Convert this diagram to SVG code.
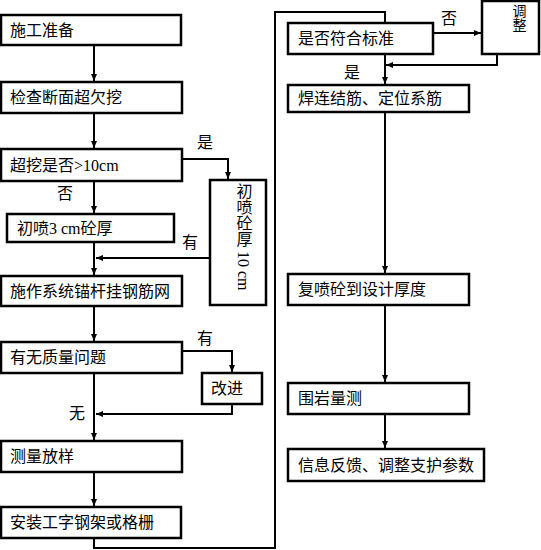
<svg xmlns="http://www.w3.org/2000/svg" width="541" height="550" viewBox="0 0 541 550">
<style>
.box{fill:#fff;stroke:#000;stroke-width:2.5}
.t{font-family:"Liberation Serif","Noto Sans CJK SC",serif;font-size:16px;fill:#000}
.c{fill:none;stroke:#000;stroke-width:2}
</style>
<defs>
<marker id="ah" markerUnits="userSpaceOnUse" markerWidth="8" markerHeight="8" refX="7" refY="4" orient="auto">
<path d="M0,1 L7,4 L0,7 z" fill="#000"/>
</marker>
</defs>
<rect width="541" height="550" fill="#fff"/>
<g id="connectors">
<path class="c" d="M94,45 V81" marker-end="url(#ah)"/>
<path class="c" d="M94,113 V148" marker-end="url(#ah)"/>
<path class="c" d="M182,159 H228 V179" marker-end="url(#ah)"/>
<path class="c" d="M94,181 V213" marker-end="url(#ah)"/>
<path class="c" d="M94,242 V275" marker-end="url(#ah)"/>
<path class="c" d="M210,258 H96" marker-end="url(#ah)"/>
<path class="c" d="M94,306 V341" marker-end="url(#ah)"/>
<path class="c" d="M182,351 H232 V372" marker-end="url(#ah)"/>
<path class="c" d="M232,404 V414 H96" marker-end="url(#ah)"/>
<path class="c" d="M94,373 V440" marker-end="url(#ah)"/>
<path class="c" d="M94,472 V506" marker-end="url(#ah)"/>
<path class="c" d="M94,538 V548 H275 V12 H385 V23"/>
<path class="c" d="M433,33 H481" marker-end="url(#ah)"/>
<path class="c" d="M497,54 V65 H386" marker-end="url(#ah)"/>
<path class="c" d="M385,54 V84" marker-end="url(#ah)"/>
<path class="c" d="M385,112 V273" marker-end="url(#ah)"/>
<path class="c" d="M385,305 V382" marker-end="url(#ah)"/>
<path class="c" d="M385,414 V448" marker-end="url(#ah)"/>
</g>
<g id="labels">
<text class="t" x="197" y="148">是</text>
<text class="t" x="57" y="199">否</text>
<text class="t" x="182" y="248">有</text>
<text class="t" x="197" y="344">有</text>
<text class="t" x="69" y="419">无</text>
<text class="t" x="441" y="24">否</text>
<text class="t" x="344" y="78">是</text>
</g>
<g id="n1"><rect class="box" x="1" y="15" width="180" height="30"/><text class="t" x="10" y="36">施工准备</text></g>
<g id="n2"><rect class="box" x="1" y="82" width="181" height="31"/><text class="t" x="10" y="103">检查断面超欠挖</text></g>
<g id="n3"><rect class="box" x="1" y="149" width="181" height="32"/><text class="t" x="10" y="171">超挖是否&gt;10cm</text></g>
<g id="n4"><rect class="box" x="7" y="214" width="167" height="28"/><text class="t" x="17" y="234">初喷3 cm砼厚</text></g>
<g id="n5"><rect class="box" x="210" y="180" width="56" height="125"/><text class="t" x="243" y="183" style="writing-mode:vertical-rl;text-orientation:mixed">初喷砼厚 10 cm</text></g>
<g id="n6"><rect class="box" x="1" y="276" width="181" height="30"/><text class="t" x="10" y="297">施作系统锚杆挂钢筋网</text></g>
<g id="n7"><rect class="box" x="1" y="342" width="181" height="31"/><text class="t" x="10" y="363">有无质量问题</text></g>
<g id="n8"><rect class="box" x="202" y="373" width="60" height="31"/><text class="t" x="211" y="394">改进</text></g>
<g id="n9"><rect class="box" x="1" y="441" width="181" height="31"/><text class="t" x="10" y="462">测量放样</text></g>
<g id="n10"><rect class="box" x="1" y="507" width="180" height="31"/><text class="t" x="10" y="528">安装工字钢架或格栅</text></g>
<g id="n11"><rect class="box" x="288" y="23" width="145" height="31"/><text class="t" x="298" y="44">是否符合标准</text></g>
<g id="n12"><rect class="box" x="482" y="1" width="57" height="53"/><text class="t" x="518" y="4" style="writing-mode:vertical-rl;font-size:14px">调整</text></g>
<g id="n13"><rect class="box" x="288" y="85" width="181" height="27"/><text class="t" x="298" y="104">焊连结筋、定位系筋</text></g>
<g id="n14"><rect class="box" x="288" y="274" width="181" height="31"/><text class="t" x="298" y="295">复喷砼到设计厚度</text></g>
<g id="n15"><rect class="box" x="288" y="383" width="181" height="31"/><text class="t" x="298" y="404">围岩量测</text></g>
<g id="n16"><rect class="box" x="288" y="449" width="196" height="32"/><text class="t" x="298" y="471">信息反馈、调整支护参数</text></g>
</svg>
